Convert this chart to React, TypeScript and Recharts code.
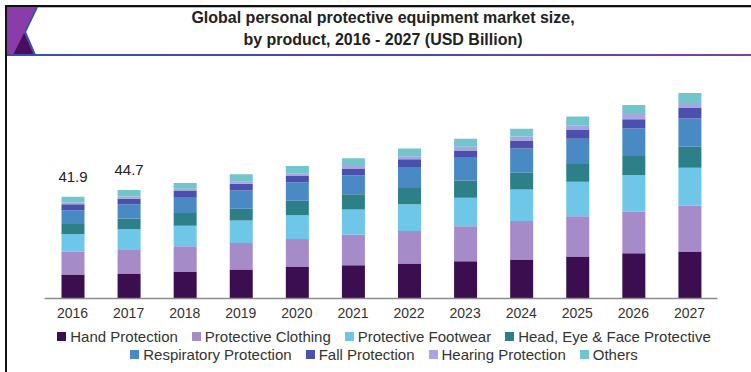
import React from "react";
import { Bar, BarChart, LabelList, XAxis, YAxis } from "recharts";

const years = ["2016", "2017", "2018", "2019", "2020", "2021", "2022", "2023", "2024", "2025", "2026", "2027"];
const hand = [9.9, 10.3, 10.9, 11.9, 13.0, 13.7, 14.4, 15.3, 16.0, 17.3, 18.6, 19.3];
const clothing = [9.3, 10.0, 10.6, 10.9, 11.5, 12.6, 13.4, 14.4, 15.9, 16.5, 17.1, 18.9];
const footwear = [7.3, 8.2, 8.4, 9.3, 9.8, 10.3, 11.0, 11.8, 13.0, 14.2, 15.1, 15.6];
const headEye = [4.2, 4.4, 5.3, 4.8, 5.9, 6.3, 6.7, 7.1, 6.9, 7.4, 7.8, 8.6];
const respiratory = [5.6, 5.9, 6.3, 7.5, 7.6, 7.8, 8.6, 9.3, 9.9, 10.3, 11.4, 11.7];
const fall = [2.5, 2.3, 2.7, 2.8, 2.6, 2.8, 3.2, 3.0, 3.1, 3.8, 3.8, 4.5];
const hearing = [0.7, 0.9, 1.0, 1.1, 1.1, 1.4, 1.2, 1.6, 1.9, 1.6, 2.1, 1.9];
const others = [2.4, 2.7, 2.3, 2.8, 3.0, 2.8, 3.2, 3.2, 3.2, 3.8, 3.7, 4.1];
// only the first two totals are printed in the source chart
const totalLabels = ["41.9", "44.7", "", "", "", "", "", "", "", "", "", ""];

const series = [
  { key: "hand", name: "Hand Protection", color: "#3b0f4f", values: hand },
  { key: "clothing", name: "Protective Clothing", color: "#a58bc8", values: clothing },
  { key: "footwear", name: "Protective Footwear", color: "#6ec6e8", values: footwear },
  { key: "headEye", name: "Head, Eye & Face Protective", color: "#2d7f88", values: headEye },
  { key: "respiratory", name: "Respiratory Protection", color: "#4a8ac4", values: respiratory },
  { key: "fall", name: "Fall Protection", color: "#4b4fae", values: fall },
  { key: "hearing", name: "Hearing Protection", color: "#a7a6e0", values: hearing },
  { key: "others", name: "Others", color: "#72c5cb", values: others }
];

const data = years.map((year, i) => {
  const row: Record<string, string | number> = { year, total: totalLabels[i] };
  series.forEach((s) => {
    row[s.key] = s.values[i];
  });
  return row;
});

const FONT = '"Liberation Sans", Arial, sans-serif';

function TotalLabel(props: any) {
  const { x, y, width, value } = props;
  if (!value) return null;
  return (
    <text
      x={Number(x) + Number(width) / 2}
      y={Number(y) - 20}
      dy="0.35em"
      textAnchor="middle"
      fontSize={15}
      fill="#222"
      fontFamily={FONT}
    >
      {value}
    </text>
  );
}

function LegendRow({ items }: { items: typeof series }) {
  return (
    <div style={{ display: "flex", justifyContent: "center", gap: 14, height: 18, alignItems: "center" }}>
      {items.map((s) => (
        <span key={s.key} style={{ display: "flex", alignItems: "center", whiteSpace: "nowrap" }}>
          <span style={{ width: 9, height: 9, background: s.color, marginRight: 4, display: "inline-block" }} />
          {s.name}
        </span>
      ))}
    </div>
  );
}

export default function App() {
  return (
    <div
      style={{
        position: "absolute",
        left: 0,
        top: 0,
        width: 751,
        height: 372,
        background: "#fff",
        overflow: "hidden",
        fontFamily: FONT
      }}
    >
      <svg width={751} height={372} style={{ position: "absolute", left: 0, top: 0 }}>
        <defs>
          <linearGradient id="bandLine" x1="0" x2="1" y1="0" y2="0">
            <stop offset="0%" stopColor="#3a4fb5" />
            <stop offset="55%" stopColor="#4a48b0" />
            <stop offset="100%" stopColor="#7d3fa8" />
          </linearGradient>
        </defs>
        <rect x={5} y={5} width={746} height={2} fill="#111" />
        <rect x={7} y={7} width={744} height={1} fill="#bbb" />
        <rect x={5} y={5} width={2} height={367} fill="#111" />
        <polygon points="7,7 37,7 25,32 35,55 7,55" fill="#8a3ca8" />
        <polygon points="24,33 13,55 34,55" fill="#4b0e5c" />
        <polyline points="37,7 25,32 35,55" fill="none" stroke="#3a4fb5" strokeWidth={2} />
        <rect x={7} y={54} width={744} height={2} fill="url(#bandLine)" />
      </svg>

      <div
        style={{
          position: "absolute",
          left: 8,
          top: 7,
          width: 750,
          textAlign: "center",
          fontWeight: "bold",
          fontSize: 16,
          lineHeight: "22px",
          color: "#222"
        }}
      >
        Global personal protective equipment market size,
        <br />
        by product, 2016 - 2027 (USD Billion)
      </div>

      <div style={{ position: "absolute", left: 0, top: 0 }}>
        <BarChart
          width={751}
          height={372}
          data={data}
          margin={{ top: 79.8, right: 33.5, bottom: 43.5, left: 44.5 }}
        >
          <XAxis
            dataKey="year"
            height={30}
            tickLine={false}
            tickMargin={4}
            axisLine={{ stroke: "#8c8c8c", strokeWidth: 1.5 }}
            tick={{ fontSize: 14, fill: "#333", fontFamily: FONT }}
          />
          <YAxis hide domain={[0, 90]} allowDataOverflow />
          {series.map((s, idx) => (
            <Bar
              key={s.key}
              dataKey={s.key}
              name={s.name}
              stackId="a"
              fill={s.color}
              barSize={23}
              isAnimationActive={false}
            >
              {idx === series.length - 1 ? <LabelList dataKey="total" content={TotalLabel} /> : null}
            </Bar>
          ))}
        </BarChart>
      </div>

      <div
        style={{
          position: "absolute",
          left: 8,
          top: 327,
          width: 752,
          fontSize: 15,
          color: "#333"
        }}
      >
        <LegendRow items={series.slice(0, 4)} />
        <LegendRow items={series.slice(4)} />
      </div>
    </div>
  );
}
